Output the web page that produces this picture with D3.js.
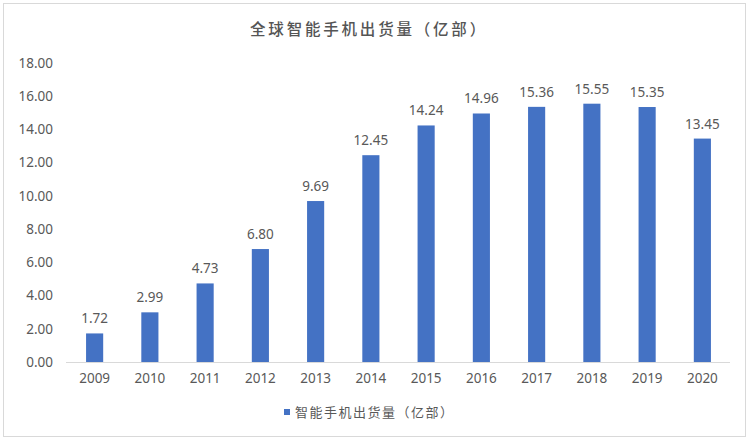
<!DOCTYPE html>
<html>
<head>
<meta charset="utf-8">
<script src="https://cdn.jsdelivr.net/npm/d3@7"></script>
<style>
  body { margin: 0; background: #fff; }
  text { font-family: "Noto Sans CJK SC", "Noto Sans", sans-serif; }
</style>
</head>
<body>
<script>
const width = 750;
const height = 441;

const years = ["2009", "2010", "2011", "2012", "2013", "2014", "2015", "2016", "2017", "2018", "2019", "2020"];
const shipments = [1.72, 2.99, 4.73, 6.80, 9.69, 12.45, 14.24, 14.96, 15.36, 15.55, 15.35, 13.45];
const yTicks = [0, 2, 4, 6, 8, 10, 12, 14, 16, 18];
const title = "全球智能手机出货量（亿部）";
const seriesName = "智能手机出货量（亿部）";

const barColor = "#4472c4";
const textColor = "#595959";

const svg = d3.select("body")
    .append("svg")
    .attr("width", width)
    .attr("height", height);

// outer frame
svg.append("rect")
    .attr("x", 3.5).attr("y", 3.5)
    .attr("width", 742).attr("height", 433)
    .attr("fill", "#fff")
    .attr("stroke", "#d9d9d9");

const xScale = d3.scaleBand()
    .domain(years)
    .range([67, 730])
    .paddingInner(0.69)
    .paddingOuter(0.345);

const yScale = d3.scaleLinear()
    .domain([0, 18])
    .range([362, 63]);

// title
svg.append("text")
    .attr("x", 369)
    .attr("y", 35)
    .attr("text-anchor", "middle")
    .attr("font-size", 15.5)
    .attr("font-weight", 500)
    .attr("letter-spacing", 2.8)
    .attr("fill", "#555")
    .text(title);

// y axis labels, no line
const yAxis = d3.axisLeft(yScale)
    .tickValues(yTicks)
    .tickSize(0)
    .tickPadding(0)
    .tickFormat(d3.format(".2f"));

const gy = svg.append("g")
    .attr("transform", "translate(53,0)")
    .call(yAxis);
gy.select(".domain").remove();
gy.selectAll("text")
    .attr("font-size", 13.5)
    .attr("fill", textColor)
    .style("font-family", "'Noto Sans', sans-serif");

// x axis
const xAxis = d3.axisBottom(xScale).tickSize(0).tickPadding(11);
const gx = svg.append("g")
    .attr("transform", `translate(0,${yScale(0)})`)
    .call(xAxis);
gx.select(".domain")
    .attr("d", `M66,0.5H730`)
    .attr("stroke", "#d9d9d9");
gx.selectAll("text")
    .attr("font-size", 13.5)
    .attr("fill", textColor)
    .style("font-family", "'Noto Sans', sans-serif");

// bars
svg.selectAll("rect.bar")
    .data(shipments)
    .enter()
    .append("rect")
    .attr("class", "bar")
    .attr("x", (d, i) => xScale(years[i]))
    .attr("y", d => yScale(d))
    .attr("width", xScale.bandwidth())
    .attr("height", d => yScale(0) - yScale(d))
    .attr("fill", barColor);

// value labels
svg.selectAll("text.val")
    .data(shipments)
    .enter()
    .append("text")
    .attr("class", "val")
    .attr("x", (d, i) => xScale(years[i]) + xScale.bandwidth() / 2)
    .attr("y", d => yScale(d) - 10)
    .attr("text-anchor", "middle")
    .attr("font-size", 13.5)
    .attr("fill", textColor)
    .style("font-family", "'Noto Sans', sans-serif")
    .text(d => d.toFixed(2));

// legend
const legend = svg.append("g").attr("transform", "translate(285,412)");
legend.append("text")
    .attr("x", 10)
    .attr("y", 5)
    .attr("font-size", 13)
    .attr("letter-spacing", 1.5)
    .attr("fill", textColor)
    .text(seriesName);
legend.append("rect")
    .attr("x", -1)
    .attr("y", -3)
    .attr("width", 6)
    .attr("height", 6)
    .attr("fill", barColor);
</script>
</body>
</html>
